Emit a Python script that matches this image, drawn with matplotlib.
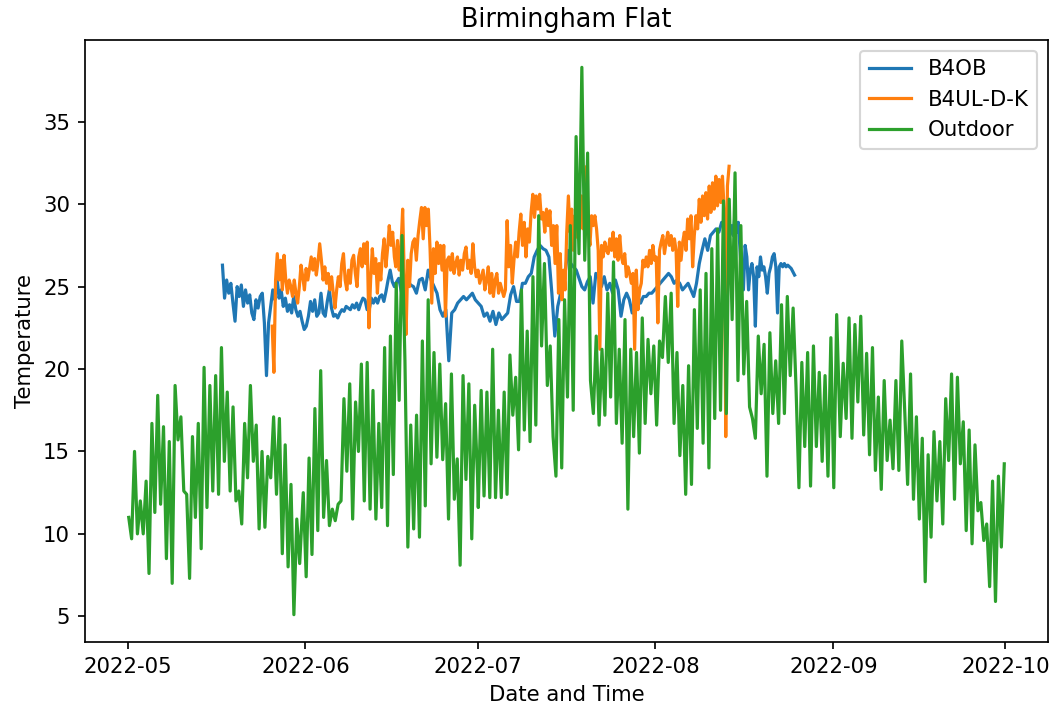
import matplotlib
matplotlib.use("Agg")
import matplotlib.pyplot as plt
import pandas as pd

# ---- Outdoor temperature (alternating highs / lows)
outdoor_may = [11.0, 9.7, 15.0, 10.0, 12.0, 10.0, 13.2, 7.6, 16.7, 11.3, 18.4, 11.8,
               16.5, 8.5, 15.6, 7.0, 19.0, 15.7, 17.1, 12.6, 12.4, 7.3, 15.9, 11.0,
               16.7, 9.1, 20.1, 11.6, 19.0, 12.6, 19.6, 12.4, 21.3, 14.4, 18.6, 12.6,
               17.7, 12.0, 12.6, 10.6, 16.7, 13.4, 19.0, 14.4, 16.6, 10.3, 15.0, 10.4,
               14.7, 13.4, 17.1, 12.4, 17.0, 8.8, 15.4, 8.0, 13.0, 5.1, 10.9, 8.2]
outdoor_jun = [12.5, 7.4, 14.6, 8.75, 17.6, 10.2, 19.9, 11.0, 14.45, 10.5, 11.5, 10.8,
               11.8, 12.0, 18.2, 13.8, 19.1, 10.9, 18.0, 15.0, 20.3, 12.0, 20.4, 11.5,
               18.7, 10.9, 16.7, 11.6, 21.3, 10.5, 22.0, 13.6, 25.2, 18.1, 28.1, 20.5,
               9.2, 16.6, 10.3, 17.2, 9.8, 21.7, 11.7, 24.2, 14.25, 21.0, 14.65, 20.3,
               14.5, 17.9, 10.9, 19.7, 12.1, 14.55, 8.1, 19.6, 13.3, 19.1, 9.7, 17.8, 13.4]
outdoor_jul = [11.6, 18.7, 12.3, 18.6, 12.2, 21.2, 12.2, 17.5, 12.2, 18.6, 12.4, 20.85,
               17.2, 19.5, 15.1, 24.8, 16.3, 22.3, 15.6, 25.6, 16.6, 29.3, 21.4, 26.4,
               19.0, 21.4, 15.9, 13.5, 23.0, 14.0, 24.2, 18.3, 28.7, 17.5, 34.1, 27.0,
               38.3, 26.6, 33.1, 19.3, 17.3, 22.0, 16.6, 21.2, 17.2, 24.6, 18.3, 26.5,
               16.7, 21.2, 15.5, 23.0, 11.5, 21.2, 15.9, 21.0, 14.9, 23.1, 16.7, 21.8,
               18.5, 21.4]
outdoor_aug = [16.6, 21.7, 20.7, 24.4, 20.4, 24.6, 16.7, 21.0, 14.75, 19.0, 12.4, 20.2,
               13.0, 23.6, 16.4, 24.8, 15.5, 25.8, 14.0, 27.3, 17.0, 28.5, 17.5, 30.2,
               17.3, 30.3, 23.0, 31.9, 19.3, 28.7, 19.7, 24.1, 17.7, 17.0, 15.8, 22.0,
               18.5, 21.5, 13.5, 22.2, 17.3, 20.5, 16.7, 23.9, 17.3, 24.4, 19.6, 23.7,
               18.9, 12.8, 20.4, 15.3, 21.0, 12.9, 21.4, 15.3, 19.8, 14.4, 19.6, 13.5,
               21.9, 12.8, 23.3]
outdoor_sep = [15.9, 20.35, 17.0, 23.1, 15.8, 22.7, 18.0, 23.2, 16.0, 20.95, 14.8, 21.3,
               13.85, 18.3, 12.7, 19.3, 14.45, 16.9, 13.95, 19.3, 13.85, 21.7, 17.5, 13.0,
               19.7, 12.1, 17.1, 10.9, 15.8, 7.1, 14.8, 9.8, 16.2, 12.0, 15.6, 10.6,
               18.2, 14.45, 19.7, 12.1, 19.5, 14.25, 16.8, 10.2, 16.3, 9.4, 15.4, 11.4,
               11.9, 9.6, 10.6, 6.8, 13.2, 5.9, 13.5, 9.2, 14.25]
outdoor_spans = [("2022-05-01 05:00", "2022-05-31 00:00"),
                 ("2022-05-31 15:00", "2022-07-01 00:00"),
                 ("2022-07-01 03:00", "2022-07-31 17:00"),
                 ("2022-08-01 05:00", "2022-09-01 14:00"),
                 ("2022-09-02 05:00", "2022-09-30 19:00")]

# ---- B4OB sensor
b4ob_a = [26.3, 24.3, 25.4, 24.6, 25.2, 24.0, 22.9, 25.0, 24.4, 25.1, 23.8, 24.8,
          24.0, 24.5, 23.4, 23.0, 24.2, 23.7, 24.4, 24.6, 22.8, 19.6, 22.8, 23.8,
          24.8, 24.2, 25.6, 24.3, 24.8, 23.8, 24.3, 23.5, 23.9, 23.4, 24.4, 23.6,
          23.2, 23.5, 22.9, 22.4, 22.6, 23.2, 24.1, 23.5, 24.2, 23.2, 23.4, 24.6,
          23.4, 23.2, 24.1, 24.8, 23.7, 23.2, 23.3, 23.1, 23.4, 23.6, 23.5, 23.8,
          23.7, 23.6, 23.9, 23.7, 24.0, 23.6, 24.0, 24.3, 24.2, 23.6, 23.6, 24.3,
          24.0, 24.3, 24.0, 24.4, 24.5, 24.1, 24.7, 25.4, 26.0, 25.3, 25.0]
b4ob_b = [25.2, 25.5, 24.6, 25.2, 25.4, 25.1, 25.0, 24.6, 25.4, 25.5, 24.8, 26.0,
          25.4, 25.0, 24.6, 23.6, 23.2, 23.6, 20.5, 23.4, 23.6, 24.0, 24.2, 24.4,
          24.2, 24.4, 24.6, 24.2, 24.0, 23.8, 23.2, 23.4, 22.9, 23.5, 22.7, 23.4,
          23.0, 23.2, 23.4, 24.5, 25.0, 24.1, 24.1, 25.2, 25.2, 25.6, 25.8, 26.8,
          27.2, 27.5, 27.3, 27.2, 26.8, 24.6, 22.0, 23.8, 24.6, 25.0]
b4ob_c = [25.8, 27.2, 26.4, 26.2, 26.0, 25.5, 25.0, 24.8, 25.3, 25.6, 24.0, 25.8,
          25.6, 25.0, 25.6, 24.8, 25.2, 24.6, 25.4, 24.8, 23.2, 24.2, 24.6, 24.2,
          23.4, 24.2, 24.4, 24.0, 24.4, 24.4, 24.6, 24.6, 24.8, 25.0, 25.2, 25.4,
          25.6, 25.8, 25.6, 25.2, 25.4, 25.2, 24.8, 25.0, 25.2, 24.8, 24.4, 25.2,
          26.4, 27.2, 27.9, 27.2, 28.1, 28.3, 28.5, 28.3, 28.9, 28.7, 28.9, 28.3]
b4ob_d = [28.7, 28.1, 29.3, 28.3, 28.9, 27.2, 25.6, 24.8, 27.5, 26.8, 24.8, 26.0,
          26.4, 25.6, 22.6, 26.2, 25.6, 26.8, 26.0, 26.2, 25.6, 24.6, 25.8, 26.2,
          26.8, 27.0, 26.2, 23.4, 26.2, 26.4, 26.2, 26.4, 26.2, 26.3, 26.2, 26.1,
          25.9, 25.7]
b4ob_spans = [("2022-05-17 13:00", "2022-06-16 12:00"),
              ("2022-06-16 18:00", "2022-07-16 00:00"),
              ("2022-07-16 06:00", "2022-08-14 00:00"),
              ("2022-08-14 06:00", "2022-08-25 06:00")]

# ---- B4UL-D-K sensor
b4ul_a = [22.6, 19.8, 25.4, 27.0, 25.4, 26.6, 24.8, 26.9, 25.4, 24.6, 25.4, 25.0,
          24.4, 25.4, 24.6, 24.0, 25.0, 26.3, 25.6, 24.8, 26.1, 25.4, 26.1, 26.8,
          26.0, 26.7, 25.7, 26.5, 27.6, 26.6, 25.4, 26.2, 25.2, 25.8, 24.8, 25.6,
          24.6, 23.7, 24.8, 25.6, 25.0, 26.4, 27.0, 25.4, 24.8, 26.0, 25.2, 26.6,
          26.9, 25.8, 25.0, 26.8, 27.3, 26.2, 27.6, 26.4, 27.7, 22.5, 25.4, 27.3,
          25.8, 26.7, 24.6, 26.4, 25.4, 27.0, 27.9, 26.2, 27.3, 28.7, 27.5, 28.3, 26.8]
b4ul_b = [26.2, 27.8, 26.0, 27.3, 29.7, 25.4, 22.1, 26.6, 25.0, 27.0, 27.7, 27.9,
          26.6, 28.1, 29.0, 29.8, 27.9, 29.8, 28.7, 29.7, 27.3, 24.0, 27.3, 25.8,
          27.7, 26.4, 27.5, 26.0, 27.5, 23.2, 26.6, 26.8, 26.0, 27.0, 25.8, 26.4,
          26.8, 25.7, 26.6, 26.0, 27.0, 27.4, 26.1, 26.6, 25.8, 27.6, 26.2, 25.6,
          26.0, 25.2, 25.6, 26.0, 24.8, 25.4, 26.2, 24.6, 25.8, 24.4, 25.4, 25.8,
          24.6, 25.2, 24.8, 24.4, 24.8, 29.0, 26.2, 27.5, 25.2, 26.6, 27.7, 26.8,
          28.3, 29.4, 27.5, 28.9, 26.8, 28.5, 27.7, 29.5, 30.6, 29.2, 30.5, 29.7,
          30.6, 29.1, 29.5, 28.3, 29.7, 28.7, 29.6, 27.5, 28.7, 26.4, 28.7, 24.6,
          27.0, 24.2, 26.0]
b4ul_c = [24.8, 28.3, 30.5, 28.3, 29.7, 27.2, 29.3, 28.0, 29.8, 28.5, 30.5, 28.5,
          31.0, 32.3, 28.5, 27.5, 29.3, 28.7, 29.3, 28.5, 27.2, 21.2, 27.5, 26.8,
          27.7, 27.2, 27.0, 27.9, 27.2, 28.3, 26.8, 27.9, 26.6, 28.1, 26.8, 26.4,
          27.0, 25.6, 26.2, 25.8, 25.2, 25.8, 21.2, 26.0, 23.6, 24.8, 25.2, 26.6,
          26.2, 26.8, 26.2, 27.2, 26.4, 27.5, 26.6, 26.8, 22.8, 27.2, 27.7, 28.1,
          27.0, 27.7, 28.3, 27.5, 28.1, 27.2, 27.9, 27.2, 23.8, 27.7, 26.6, 27.7,
          28.3, 27.2, 29.1, 27.9, 29.3, 26.2, 28.1, 29.3, 28.5, 30.3, 28.9, 30.5,
          29.3, 30.7, 29.1, 31.1, 29.5, 31.3, 29.7, 31.7, 29.9, 31.5, 30.1, 31.7,
          29.7, 15.9, 31.1, 32.3]
b4ul_spans = [("2022-05-26 05:00", "2022-06-16 12:00"),
              ("2022-06-16 18:00", "2022-07-16 00:00"),
              ("2022-07-16 06:00", "2022-08-13 20:00")]


def build(parts, spans):
    # spread each block of readings evenly over its date span
    pieces = []
    for vals, (start, end) in zip(parts, spans):
        idx = pd.date_range(start, end, periods=len(vals))
        pieces.append(pd.Series(vals, index=idx))
    return pd.concat(pieces)


b4ob = build([b4ob_a, b4ob_b, b4ob_c, b4ob_d], b4ob_spans)
b4ul = build([b4ul_a, b4ul_b, b4ul_c], b4ul_spans)
outdoor = build([outdoor_may, outdoor_jun, outdoor_jul, outdoor_aug, outdoor_sep],
                outdoor_spans)

dpi = 153
fig = plt.figure(figsize=(1058 / dpi, 708 / dpi), dpi=dpi)
ax = fig.add_axes([0.0803, 0.0932, 0.9103, 0.8503])

ax.plot(b4ob.index, b4ob.values, label="B4OB")
ax.plot(b4ul.index, b4ul.values, label="B4UL-D-K")
ax.plot(outdoor.index, outdoor.values, label="Outdoor")

ax.set_title("Birmingham Flat")
ax.set_xlabel("Date and Time")
ax.set_ylabel("Temperature")
ax.legend(loc="upper right")

fig.savefig("out.png", dpi=dpi)
